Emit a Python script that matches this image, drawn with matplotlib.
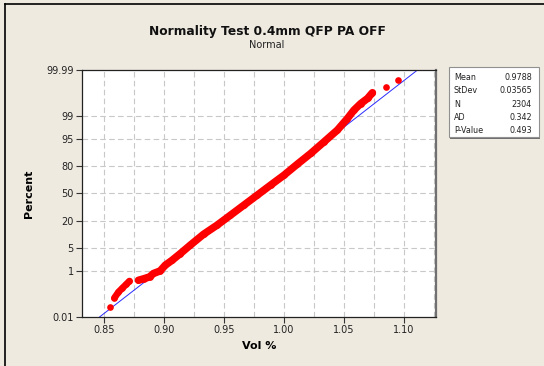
import numpy as np
from matplotlib import pyplot as plt
from matplotlib.lines import Line2D
from matplotlib.patches import Rectangle
from statistics import NormalDist

# values (Vol %, percent)
vol = [0.8550, 0.8586, 0.8620, 0.8653, 0.8684, 0.8712,
       0.8787, 0.8829, 0.8879, 0.8912, 0.8968, 0.9010, 0.9066, 0.9135,
       0.9219, 0.9330, 0.9442, 0.9554, 0.9665, 0.9777, 0.9888, 1.0000,
       1.0111, 1.0223, 1.0334, 1.0446, 1.0529, 1.0584, 1.0640, 1.0697,
       1.0738, 1.0849, 1.0947]
pct = [0.032, 0.083, 0.15, 0.22, 0.31, 0.42,
       0.45, 0.51, 0.60, 0.80, 0.99, 1.54, 2.2, 3.5,
       6.0, 11.0, 17.0, 25.7, 36.2, 48.0, 59.9, 70.9,
       81.1, 88.6, 94.0, 97.2, 98.8, 99.4, 99.66, 99.79,
       99.88, 99.93, 99.97]

mean = 0.9788
stdev = 0.03565

stat_names = ['Mean', 'StDev', 'N', 'AD', 'P-Value']
stat_vals = ['0.9788', '0.03565', '2304', '0.342', '0.493']

yticks = [0.01, 1, 5, 20, 50, 80, 95, 99, 99.99]
ytick_labels = ['0.01', '1', '5', '20', '50', '80', '95', '99', '99.99']
xticks = [0.85, 0.90, 0.95, 1.00, 1.05, 1.10]

nd = NormalDist()
z = lambda p: nd.inv_cdf(p / 100.0)

vol = np.array(vol)
zs = np.array([z(p) for p in pct])

bg = '#eeeae0'
fig = plt.figure(figsize=(5.44, 3.66), dpi=100, facecolor=bg)
ax = fig.add_axes([82/544, 1-317/366, 354/544, 247/366])
ax.set_facecolor('white')

zlo, zhi = z(0.01), z(99.99)
ax.set_ylim(zlo, zhi)
ax.set_xlim(0.8316, 1.1268)

# grid
for gx in np.arange(0.85, 1.126, 0.025):
    ax.axvline(gx, color='#c8c8c8', lw=0.8, ls=(0, (5, 3)), zorder=0)
for p in yticks[1:-1]:
    ax.axhline(z(p), color='#c8c8c8', lw=0.8, ls=(0, (5, 3)), zorder=0)

# fitted line
ax.plot([mean + stdev*zlo, mean + stdev*zhi], [zlo, zhi], color='#2b2bff', lw=0.7, zorder=2)

# dense runs of points drawn as a thick band plus dots
ax.plot(vol[1:6], zs[1:6], color='red', lw=4.8, solid_capstyle='round', zorder=3)
ax.plot(vol[6:31], zs[6:31], color='red', lw=5.4, solid_capstyle='round', zorder=3)
ax.plot(vol, zs, 'o', color='red', ms=4.8, mec='none', zorder=4)

ax.set_yticks([z(p) for p in yticks])
ax.set_yticklabels(ytick_labels)
ax.set_xticks(xticks)
ax.set_xticklabels(['%.2f' % v for v in xticks])
ax.tick_params(labelsize=7, length=4, width=0.8, color='#333333', pad=2, labelcolor='#222222')

for s in ['left', 'top', 'bottom']:
    ax.spines[s].set_color('#222222')
    ax.spines[s].set_linewidth(0.9)
ax.spines['right'].set_color('#707070')
ax.spines['right'].set_linewidth(1.6)

ax.set_xlabel('Vol %', fontsize=8, fontweight='bold')
ax.xaxis.set_label_coords(0.5, -0.097)
ax.set_ylabel('Percent', fontsize=8, fontweight='bold')
ax.yaxis.set_label_coords(-0.137, 0.5)

fig.text(267/544, 1-31.7/366, 'Normality Test 0.4mm QFP PA OFF', ha='center', va='center',
         fontsize=8.8, fontweight='bold', color='#111111')
fig.text(267/544, 1-45.5/366, 'Normal', ha='center', va='center', fontsize=7, color='#222222')

# stats box
fig.patches.append(Rectangle((450/544, 1-138.5/366), 90/544, 70/366, transform=fig.transFigure,
                             facecolor='#707070', edgecolor='none', zorder=1))
fig.patches.append(Rectangle((448.5/544, 1-137/366), 90/544, 70/366, transform=fig.transFigure,
                             facecolor='white', edgecolor='#909090', lw=0.8, zorder=2))
for i, (nm, vl) in enumerate(zip(stat_names, stat_vals)):
    yy = 1 - (77.5 + i*13.3)/366
    fig.text(454/544, yy, nm, ha='left', va='center', fontsize=5.8, color='#222222')
    fig.text(532/544, yy, vl, ha='right', va='center', fontsize=5.8, color='#222222')

# screenshot frame
fig.add_artist(Line2D([5/544, 5/544], [0, 1-4/366], color='black', lw=1.2, transform=fig.transFigure))
fig.add_artist(Line2D([5/544, 1], [1-4/366, 1-4/366], color='black', lw=1.2, transform=fig.transFigure))

fig.savefig('out.png', dpi=100, facecolor=bg)
